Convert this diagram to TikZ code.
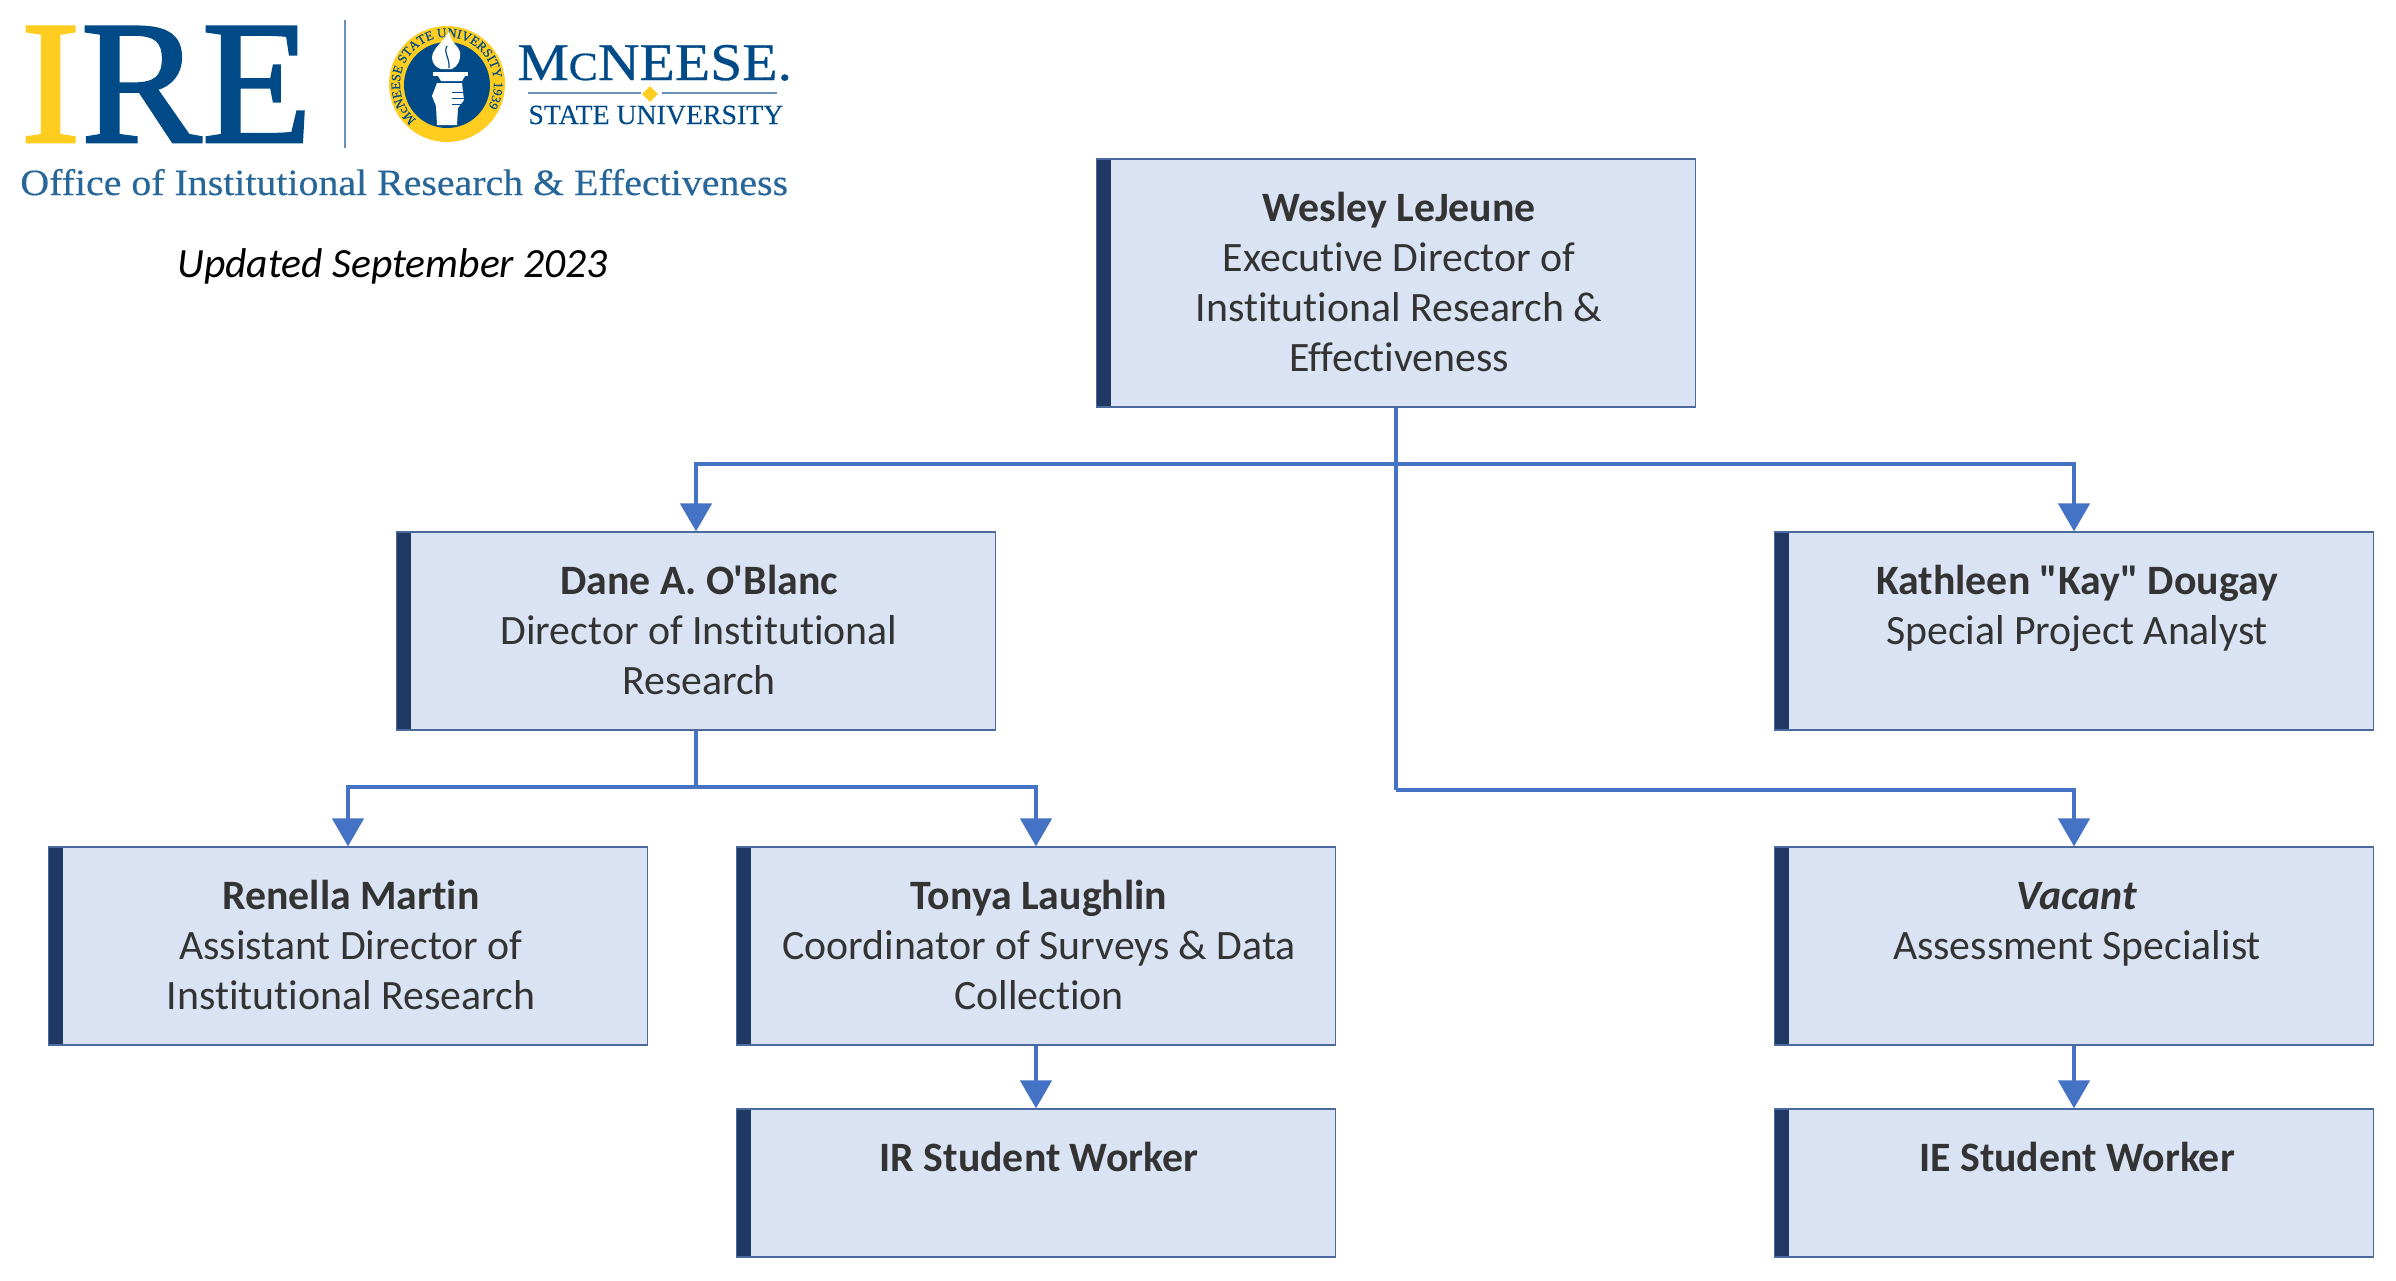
\documentclass[tikz,border=0pt]{standalone}
\usepackage{fontspec}
\setmainfont{Carlito}[Ligatures={TeXOff,NoCommon}]
\newfontfamily\irefont{Liberation Serif}[FakeStretch=1.03,FakeBold=1.5]
\newfontfamily\mcfont{Liberation Serif}[FakeStretch=1.09,FakeBold=0.6]
\newfontfamily\officefont{Liberation Serif}[FakeStretch=1.077,FakeBold=0.3]
\newfontfamily\logofont{Liberation Serif}[FakeBold=0.3]
\usetikzlibrary{arrows.meta,decorations.text,shapes.geometric}
\definecolor{boxfill}{HTML}{DAE3F3}
\definecolor{boxline}{HTML}{4A6A9E}
\definecolor{barblue}{HTML}{1F3864}
\definecolor{linkblue}{HTML}{4472C4}
\definecolor{inktext}{HTML}{333333}
\definecolor{logoblue}{HTML}{004B87}
\definecolor{logoyellow}{HTML}{FFCD1F}
\tikzset{
    staffbox/.style={draw=boxline,line width=0.6pt,fill=boxfill,minimum width=299.5pt,inner sep=0pt,
        path picture={\fill[barblue] (path picture bounding box.north west) rectangle
            ([xshift=7pt]path picture bounding box.south west);}},
    stafftext/.style={anchor=north,align=center,inner sep=0pt,text=inktext,
        font=\fontsize{20.9}{25}\selectfont},
    link/.style={draw=linkblue,line width=2.3pt},
    linkarrow/.style={link,-{Triangle[length=14pt,width=15.5pt]}},
    logotext/.style={inner sep=0pt,anchor=base west,text=logoblue}
}
\begin{document}
\begin{tikzpicture}[x=0.5pt,y=-0.5pt]
    \useasboundingbox (0,0) rectangle (2396,1280);
    % logo
    \node[logotext,font=\irefont\fontsize{88}{88}\selectfont] (ire) at (20,142)
        {\textcolor{logoyellow}{I}RE};
    \draw[color=logoblue!60,line width=1pt] (345,20) -- (345,148);
    \fill[logoyellow] (447,84) circle (58);
    \fill[logoblue] (447,85) circle (43);
    \path[decorate,decoration={text along path,text align=center,
        text={|\logofont\fontsize{6.5}{6.5}\selectfont\color{logoblue}|McNEESE STATE UNIVERSITY 1939}}]
        (447,84) ++(115:47) arc[start angle=115,end angle=405,radius=47];
    % torch
    \fill[white] (449,31) .. controls (444,42) and (432,48) .. (432,58)
        .. controls (432,64) and (437,68) .. (441,69) -- (452,69)
        .. controls (458,66) and (461,60) .. (460,52)
        .. controls (459,46) and (451,44) .. (449,31);
    \draw[logoblue,line width=0.6pt] (447,46) .. controls (443,52) and (450,58) .. (449,68);
    \fill[white] (433,72) rectangle (468,76);
    \fill[white] (438,76) -- (465,76) -- (462,81) -- (441,81) -- cycle;
    \fill[white] (437,83) -- (462,83) -- (464,100) -- (458,108) -- (457,125) -- (437,125)
        -- (436,106) -- (432,96) -- cycle;
    \foreach \y in {92,98,104} {
        \draw[logoblue,line width=0.5pt] (452,\y) -- (464,\y);
    }
    \node[logotext,font=\mcfont\fontsize{26.5}{26.5}\selectfont] (mcneese) at (517,80)
        {M{\fontsize{20}{20}\selectfont C}NEESE.};
    \draw[color=logoblue!60,line width=1pt] (528,93) -- (641,93) (662,93) -- (777,93);
    \node[diamond,fill=logoyellow,inner sep=0pt,minimum size=8pt] (mark) at (650,94) {};
    \node[logotext,font=\logofont\fontsize{13.9}{13.9}\selectfont] (state) at (528,124)
        {STATE UNIVERSITY};
    \node[logotext,text=logoblue!85,font=\officefont\fontsize{18.5}{18.5}\selectfont] (office) at (20,195)
        {Office of Institutional Research \& Effectiveness};
    \node[inner sep=0pt,anchor=base west,text=black,font=\fontsize{20.8}{25}\selectfont\itshape] (updated) at (177,277.5)
        {Updated September 2023};
    % staff boxes
    \foreach \p/\cx/\cy/\h/\txt in {
        wesley/1396/283/248/{\textbf{Wesley LeJeune}\\Executive Director of\\Institutional Research \&\\Effectiveness},
        dane/696/631/198/{\textbf{Dane A. O'Blanc}\\Director of Institutional\\Research},
        kathleen/2074/631/198/{\textbf{Kathleen "Kay" Dougay}\\Special Project Analyst},
        renella/348/946/198/{\textbf{Renella Martin}\\Assistant Director of\\Institutional Research},
        tonya/1036/946/198/{\textbf{Tonya Laughlin}\\Coordinator of Surveys \& Data\\Collection},
        vacant/2074/946/198/{\textbf{\textit{Vacant}}\\Assessment Specialist},
        irworker/1036/1183/148/{\textbf{IR Student Worker}},
        ieworker/2074/1183/148/{\textbf{IE Student Worker}}} {
        \node[staffbox,minimum height=\h*0.5pt] (\p) at (\cx,\cy) {};
        \node[stafftext] (\p-text) at ([xshift=1.5pt,yshift=-13.75pt]\p.north) {\strut\txt};
    }
    % links
    \coordinate (topbus) at (1396,464);
    \coordinate (lowbus) at (1396,790);
    \coordinate (danebus) at (696,787);
    \draw[link] (wesley.south) -- (lowbus);
    \draw[linkarrow] (topbus) -| (dane.north);
    \draw[linkarrow] (topbus) -| (kathleen.north);
    \draw[linkarrow] (lowbus) -| (vacant.north);
    \draw[link] (dane.south) -- (danebus);
    \draw[linkarrow] (danebus) -| (renella.north);
    \draw[linkarrow] (danebus) -| (tonya.north);
    \draw[linkarrow] (tonya.south) -- (irworker.north);
    \draw[linkarrow] (vacant.south) -- (ieworker.north);
\end{tikzpicture}
\end{document}
